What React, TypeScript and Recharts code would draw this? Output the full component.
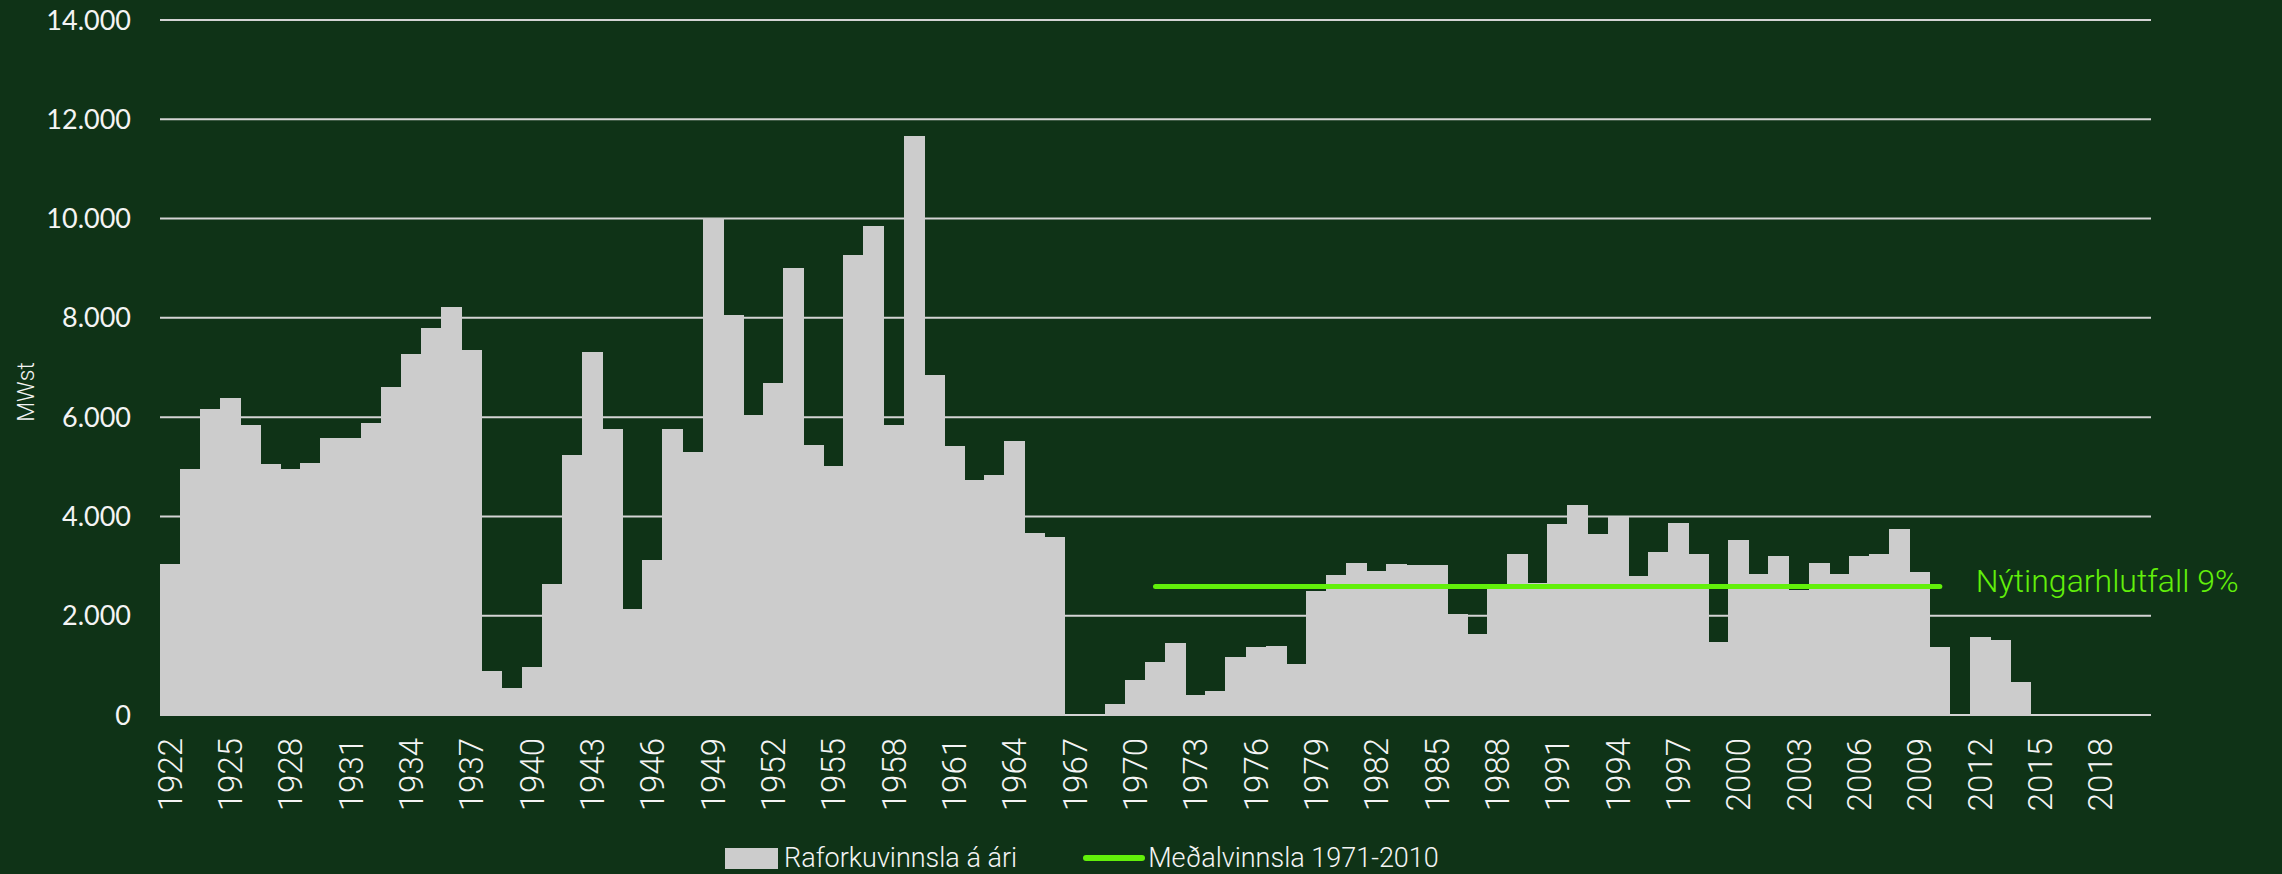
import React from 'react';
import {
  ComposedChart, Bar, Line, XAxis, YAxis, CartesianGrid, Legend,
} from 'recharts';

const YEARS = [
  1922, 1923, 1924, 1925, 1926, 1927, 1928, 1929, 1930, 1931,
  1932, 1933, 1934, 1935, 1936, 1937, 1938, 1939, 1940, 1941,
  1942, 1943, 1944, 1945, 1946, 1947, 1948, 1949, 1950, 1951,
  1952, 1953, 1954, 1955, 1956, 1957, 1958, 1959, 1960, 1961,
  1962, 1963, 1964, 1965, 1966, 1967, 1968, 1969, 1970, 1971,
  1972, 1973, 1974, 1975, 1976, 1977, 1978, 1979, 1980, 1981,
  1982, 1983, 1984, 1985, 1986, 1987, 1988, 1989, 1990, 1991,
  1992, 1993, 1994, 1995, 1996, 1997, 1998, 1999, 2000, 2001,
  2002, 2003, 2004, 2005, 2006, 2007, 2008, 2009, 2010, 2011,
  2012, 2013, 2014, 2015, 2016, 2017, 2018, 2019, 2020,
];

// MWst per year
const PRODUCTION = [
  3040, 4940, 6160, 6370, 5840, 5050, 4940, 5070, 5570, 5570,
  5870, 6590, 7260, 7790, 8200, 7350, 880, 540, 950, 2620,
  5220, 7300, 5760, 2120, 3120, 5760, 5280, 10000, 8040, 6030,
  6670, 8990, 5420, 5010, 9250, 9850, 5840, 11660, 6830, 5410,
  4720, 4830, 5510, 3650, 3570, 0, 0, 210, 690, 1060,
  1440, 400, 480, 1150, 1360, 1370, 1020, 2480, 2810, 3060,
  2890, 3030, 3010, 3010, 2020, 1620, 2600, 3240, 2650, 3830,
  4230, 3640, 3970, 2790, 3280, 3850, 3230, 1460, 3520, 2840,
  3190, 2500, 3050, 2830, 3200, 3240, 3730, 2870, 1360, 0,
  1560, 1500, 660, 0, 0, 0, 0, 0, 0,
];

const MEAN_VALUE = 2590;
const MEAN_FROM = 1971;
const MEAN_TO = 2010;

const Y_TICKS = [0, 2000, 4000, 6000, 8000, 10000, 12000, 14000];
const BAR_NAME = 'Raforkuvinnsla á ári';
const LINE_NAME = 'Meðalvinnsla 1971-2010';
const LINE_LABEL = 'Nýtingarhlutfall 9%';
const Y_LABEL = 'MWst';

const BG = '#0f3317';
const BAR = '#cccccc';
const GREEN = '#62f00a';
const GRID = '#d4d4d4';
const TEXT = '#f4f4f4';
const NARROW = '"Liberation Sans Narrow", "Arial Narrow", Roboto, sans-serif';

const data = YEARS.map((year, i) => ({
  year,
  production: PRODUCTION[i],
  mean: year >= MEAN_FROM && year <= MEAN_TO ? MEAN_VALUE : null,
}));
const lastMeanIdx = YEARS.indexOf(MEAN_TO);

const fmt = (v: number) => v.toLocaleString('de-DE');

function YearTick({ x, y, payload }: any) {
  return (
    <text
      x={x}
      y={y}
      transform={`rotate(-90, ${x}, ${y})`}
      textAnchor="end"
      dominantBaseline="central"
      fill={TEXT}
      fontSize={33}
      fontWeight={300}
      fontFamily={NARROW}
    >
      {payload.value}
    </text>
  );
}

function MeanLabel({ x, y, index }: any) {
  if (index !== lastMeanIdx) return null;
  return (
    <text x={x + 36} y={y - 5} dominantBaseline="central" fill={GREEN} fontSize={32} fontWeight={300} fontFamily={NARROW}>
      {LINE_LABEL}
    </text>
  );
}

function LegendBox() {
  return (
    <div style={{ display: 'flex', alignItems: 'center', paddingLeft: 725, height: 32, fontFamily: NARROW, fontWeight: 300, fontSize: 27, color: TEXT }}>
      <span style={{ width: 53, height: 21, background: BAR, display: 'inline-block', marginRight: 6 }} />
      <span>{BAR_NAME}</span>
      <span style={{ width: 62, height: 6, background: GREEN, borderRadius: 3, display: 'inline-block', marginLeft: 66, marginRight: 3 }} />
      <span>{LINE_NAME}</span>
    </div>
  );
}

export default function App() {
  return (
    <div style={{ position: 'absolute', left: 0, top: 0, width: 2282, height: 874, background: BG }}>
      <ComposedChart
        width={2282}
        height={874}
        data={data}
        barCategoryGap={0}
        margin={{ top: 20, right: 131, bottom: 0, left: 0 }}
      >
        <CartesianGrid vertical={false} stroke={GRID} strokeWidth={2} />
        <XAxis
          dataKey="year"
          interval={2}
          height={127}
          tickSize={0}
          tickMargin={23}
          axisLine={false}
          tick={<YearTick />}
        />
        <YAxis
          domain={[0, 14000]}
          ticks={Y_TICKS}
          width={160}
          tickSize={0}
          tickMargin={29}
          axisLine={false}
          tickFormatter={fmt}
          tick={{ fill: TEXT, fontSize: 27, fontFamily: 'Lato, sans-serif' }}
          label={{
            content: () => (
              <text x={26} y={392} transform="rotate(-90, 26, 392)" textAnchor="middle" dominantBaseline="central" fill={TEXT} fontSize={23} fontWeight={300} fontFamily={NARROW}>
                {Y_LABEL}
              </text>
            ),
          }}
        />
        <Legend verticalAlign="bottom" height={32} wrapperStyle={{ left: 0, width: 2282 }} content={() => <LegendBox />} />
        <Bar
          dataKey="production"
          name={BAR_NAME}
          fill={BAR}
          stroke={BAR}
          strokeWidth={1}
          shapeRendering="crispEdges"
          isAnimationActive={false}
        />
        <Line
          dataKey="mean"
          name={LINE_NAME}
          stroke={GREEN}
          strokeWidth={5}
          strokeLinecap="round"
          dot={false}
          activeDot={false}
          connectNulls={false}
          isAnimationActive={false}
          label={<MeanLabel />}
        />
      </ComposedChart>
    </div>
  );
}
